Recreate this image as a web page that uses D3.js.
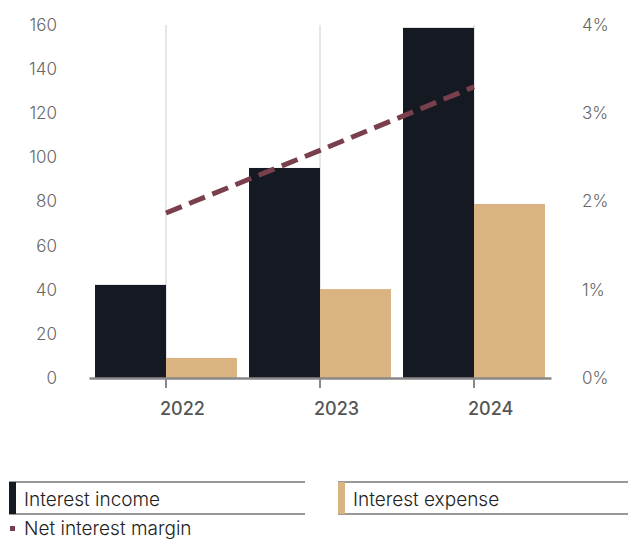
<!DOCTYPE html>
<html>
<head>
<meta charset="utf-8">
<script src="https://cdn.jsdelivr.net/npm/d3@7"></script>
<style>
  body { margin: 0; background: #fff; }
  svg { display: block; font-family: Inter, "Noto Sans", sans-serif; }
</style>
</head>
<body>
<svg width="630" height="539"></svg>
<script>
// data
const years = ["2022", "2023", "2024"];
const interestIncome = [42.2, 95.2, 158.7];
const interestExpense = [9.1, 40.3, 78.9];
const netInterestMargin = [0.0187, 0.0258, 0.0330];
const leftTicks = [0, 20, 40, 60, 80, 100, 120, 140, 160];
const rightTicks = [0, 0.01, 0.02, 0.03, 0.04];

const incomeColor = "#151922";
const expenseColor = "#dab382";
const nimColor = "#7a3f4d";

const svg = d3.select("svg");
const plotTop = 25, plotBottom = 378;

const x = d3.scaleBand()
    .domain(years)
    .range([89, 551])
    .paddingInner(0.078)
    .paddingOuter(0.039);

const x1 = d3.scaleBand()
    .domain(["income", "expense"])
    .range([0, x.bandwidth()]);

const y = d3.scaleLinear().domain([0, 160]).range([plotBottom, plotTop]);
const yR = d3.scaleLinear().domain([0, 0.04]).range([plotBottom, plotTop]);

// vertical gridlines at year centres
svg.append("g")
  .selectAll("line")
  .data(years)
  .join("line")
    .attr("x1", d => x(d) + x.bandwidth() / 2)
    .attr("x2", d => x(d) + x.bandwidth() / 2)
    .attr("y1", plotTop)
    .attr("y2", plotBottom)
    .attr("stroke", "#e6e6e6")
    .attr("stroke-width", 2);

// bars
const groups = svg.append("g")
  .selectAll("g")
  .data(years)
  .join("g")
    .attr("transform", d => `translate(${x(d)},0)`);

groups.append("rect")
    .attr("x", x1("income"))
    .attr("width", x1.bandwidth())
    .attr("y", (d, i) => y(interestIncome[i]))
    .attr("height", (d, i) => plotBottom - y(interestIncome[i]))
    .attr("fill", incomeColor);

groups.append("rect")
    .attr("x", x1("expense"))
    .attr("width", x1.bandwidth())
    .attr("y", (d, i) => y(interestExpense[i]))
    .attr("height", (d, i) => plotBottom - y(interestExpense[i]))
    .attr("fill", expenseColor);

// net interest margin line
const line = d3.line()
    .x((d, i) => x(years[i]) + x.bandwidth() / 2)
    .y(d => yR(d));

svg.append("path")
    .attr("d", line(netInterestMargin))
    .attr("fill", "none")
    .attr("stroke", nimColor)
    .attr("stroke-width", 5)
    .attr("stroke-dasharray", "17,8");

// x axis - labels sit a bit right of the tick
const gx = svg.append("g")
    .attr("transform", `translate(0,${plotBottom})`)
    .call(d3.axisBottom(x).tickSize(10).tickSizeOuter(0).tickPadding(14));
gx.select(".domain").attr("stroke", "#888").attr("stroke-width", 2.5);
gx.selectAll(".tick line").attr("stroke", "#888").attr("stroke-width", 2);
gx.selectAll(".tick text")
    .attr("text-anchor", "start")
    .attr("dx", -6)
    .attr("font-size", 18)
    .attr("font-weight", 500)
    .attr("fill", "#555")
    .attr("font-family", "Inter, sans-serif");

// left axis
const gy = svg.append("g")
    .attr("transform", "translate(57,0)")
    .call(d3.axisLeft(y).tickValues(leftTicks).tickSize(0).tickPadding(0));
gy.select(".domain").remove();

// right axis
const gyR = svg.append("g")
    .attr("transform", "translate(582,0)")
    .call(d3.axisRight(yR).tickValues(rightTicks).tickFormat(d3.format(".0%")).tickSize(0).tickPadding(0));
gyR.select(".domain").remove();

svg.selectAll(".tick text")
    .filter(function () { return !this.hasAttribute("font-size"); })
    .attr("font-size", 17)
    .attr("font-weight", 300)
    .attr("fill", "#666")
    .attr("font-family", "Inter, sans-serif");

// legend
const legendItems = [
  {label: "Interest income", color: incomeColor, x: 9, w: 296},
  {label: "Interest expense", color: expenseColor, x: 338, w: 290}
];

const lg = svg.append("g")
  .selectAll("g")
  .data(legendItems)
  .join("g")
    .attr("transform", d => `translate(${d.x},482)`);

lg.append("line")
    .attr("x1", 0).attr("x2", d => d.w)
    .attr("y1", 0).attr("y2", 0)
    .attr("stroke", "#777").attr("stroke-width", 1.5);
lg.append("line")
    .attr("x1", 0).attr("x2", d => d.w)
    .attr("y1", 32).attr("y2", 32)
    .attr("stroke", "#777").attr("stroke-width", 1.5);
lg.append("rect")
    .attr("x", 0).attr("y", 0)
    .attr("width", 7).attr("height", 32)
    .attr("fill", d => d.color);
lg.append("text")
    .attr("x", 15).attr("y", 24)
    .attr("font-size", 19)
    .attr("font-weight", 300)
    .attr("fill", "#222")
    .text(d => d.label);

const nl = svg.append("g").attr("transform", "translate(10,526)");
nl.append("rect")
    .attr("width", 5).attr("height", 5)
    .attr("fill", nimColor);
nl.append("text")
    .attr("x", 14).attr("y", 9)
    .attr("font-size", 19)
    .attr("font-weight", 300)
    .attr("fill", "#222")
    .text("Net interest margin");
</script>
</body>
</html>
